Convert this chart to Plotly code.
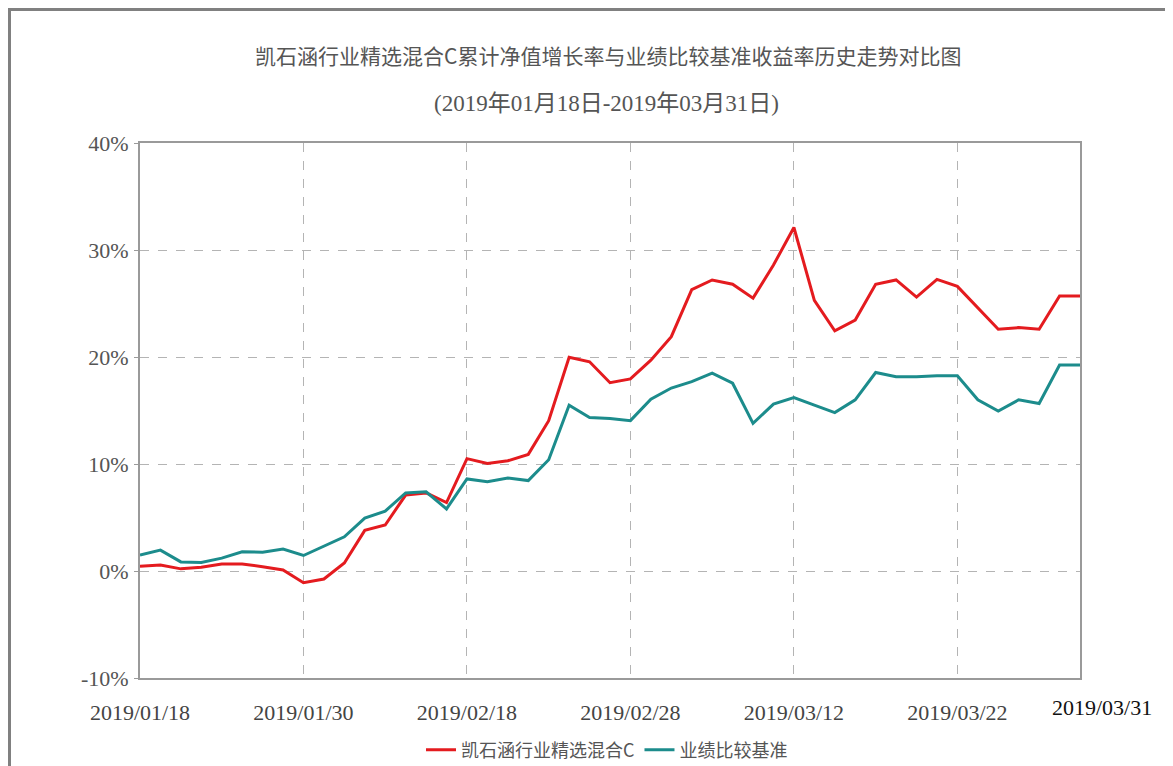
import plotly.graph_objects as go

dates = ["01/18", "01/21", "01/22", "01/23", "01/24", "01/25", "01/28", "01/29", "01/30",
         "01/31", "02/01", "02/11", "02/12", "02/13", "02/14", "02/15", "02/18",
         "02/19", "02/20", "02/21", "02/22", "02/25", "02/26", "02/27", "02/28",
         "03/01", "03/04", "03/05", "03/06", "03/07", "03/08", "03/11", "03/12",
         "03/13", "03/14", "03/15", "03/18", "03/19", "03/20", "03/21", "03/22",
         "03/25", "03/26", "03/27", "03/28", "03/29", "03/31"]
dates = ["2019/" + d for d in dates]

fund = [0.45, 0.55, 0.2, 0.35, 0.65, 0.65, 0.4, 0.1, -1.1,
        -0.75, 0.75, 3.8, 4.3, 7.1, 7.3, 6.4, 10.5,
        10.05, 10.3, 10.9, 14.05, 19.97, 19.55, 17.6, 17.95,
        19.7, 21.9, 26.3, 27.2, 26.8, 25.5, 28.6, 32.1,
        25.3, 22.45, 23.45, 26.8, 27.2, 25.6, 27.25, 26.6,
        24.55, 22.6, 22.75, 22.6, 25.7, 25.7]
bench = [1.5, 1.95, 0.85, 0.8, 1.2, 1.8, 1.75, 2.05, 1.45,
         2.3, 3.2, 4.95, 5.6, 7.3, 7.4, 5.8, 8.6,
         8.35, 8.7, 8.45, 10.4, 15.5, 14.35, 14.25, 14.05,
         16.05, 17.1, 17.7, 18.5, 17.55, 13.8, 15.6, 16.2,
         15.5, 14.8, 16.0, 18.55, 18.15, 18.15, 18.25, 18.25,
         16.0, 14.95, 16.0, 15.65, 19.25, 19.25]

series_names = ["凯石涵行业精选混合C", "业绩比较基准"]
title_text = "凯石涵行业精选混合C累计净值增长率与业绩比较基准收益率历史走势对比图"
subtitle_text = "(2019年01月18日-2019年03月31日)"
tick_dates = ["2019/01/18", "2019/01/30", "2019/02/18", "2019/02/28", "2019/03/12", "2019/03/22"]
last_label = "2019/03/31"
y_ticks = [-10, 0, 10, 20, 30, 40]

FONT = "Liberation Serif, Noto Sans CJK SC, serif"
RED = "#e41b1f"
TEAL = "#1c8c8c"

fig = go.Figure()
fig.add_trace(go.Scatter(x=dates, y=fund, mode="lines", name=series_names[0],
                         line=dict(color=RED, width=3)))
fig.add_trace(go.Scatter(x=dates, y=bench, mode="lines", name=series_names[1],
                         line=dict(color=TEAL, width=3)))

W, H = 1173, 766
# page body has an 8px offset; plot area on screen: x 140-1080, y 143-678
L, T = 132, 135
PW, PH = 940, 535
R = W - L - PW
B = H - T - PH


def px(x):
    return (x - 140) / PW


def py(y):
    return (678 - y) / PH


fig.update_layout(
    width=W, height=H,
    margin=dict(l=L, r=R, t=T, b=B, autoexpand=False),
    paper_bgcolor="white", plot_bgcolor="white",
    font=dict(family=FONT, color="#555555"),
    showlegend=True,
    legend=dict(orientation="h", xref="container", yref="container",
                x=(607 - 8) / W, xanchor="center", y=1 - (750 - 8) / H, yanchor="middle",
                font=dict(size=18, color="#555555", family="Noto Sans CJK SC"),
                itemwidth=30, tracegroupgap=0),
    xaxis=dict(type="category", range=[0, len(dates) - 1],
               tickmode="array", tickvals=tick_dates, ticktext=tick_dates,
               showgrid=True, gridcolor="#b4b4b4", griddash="dash", gridwidth=1,
               showline=True, linecolor="#9a9a9a", linewidth=2, mirror=True,
               ticks="", tickfont=dict(size=22, color="#444444", family=FONT),
               ticklabelstandoff=14, zeroline=False),
    yaxis=dict(range=[-10, 40], tickmode="array", tickvals=y_ticks,
               ticktext=[f"{v}%" for v in y_ticks],
               showgrid=True, gridcolor="#b4b4b4", griddash="dash", gridwidth=1,
               showline=True, linecolor="#9a9a9a", linewidth=2, mirror=True,
               ticks="outside", ticklen=4, tickcolor="#9a9a9a",
               tickfont=dict(size=22, color="#555555", family=FONT),
               ticklabelstandoff=1, zeroline=False),
    annotations=[
        dict(text=title_text, xref="paper", yref="paper", x=px(608), y=py(55),
             showarrow=False, xanchor="center", yanchor="middle",
             font=dict(size=21, color="#555555", family="Noto Sans CJK SC")),
        dict(text=subtitle_text, xref="paper", yref="paper", x=px(606), y=py(103),
             showarrow=False, xanchor="center", yanchor="middle",
             font=dict(size=23, color="#555555", family=FONT)),
        dict(text=last_label, xref="paper", yref="paper", x=px(1102), y=py(707),
             showarrow=False, xanchor="center", yanchor="middle",
             font=dict(size=22, color="#111111", family=FONT)),
    ],
    shapes=[
        dict(type="rect", xref="paper", yref="paper",
             x0=px(9.5), x1=px(1200), y0=py(800), y1=py(9.5),
             line=dict(color="#808080", width=3), fillcolor="rgba(0,0,0,0)", layer="below"),
    ],
)

fig.write_html("out.html")
